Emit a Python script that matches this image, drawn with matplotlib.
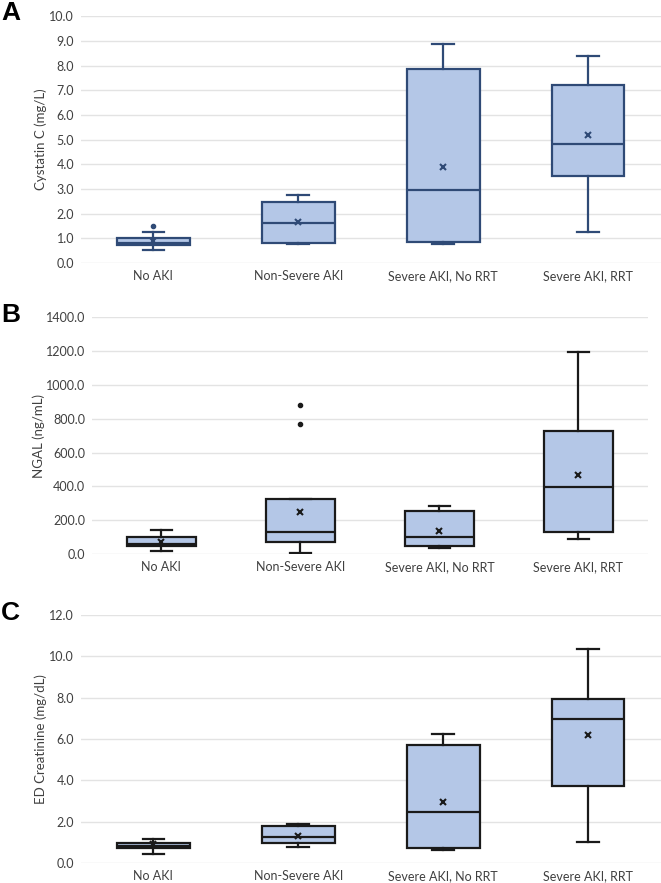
import matplotlib
matplotlib.use("Agg")
import matplotlib.pyplot as plt
from matplotlib.ticker import FormatStrFormatter, MultipleLocator

plt.rcParams["font.family"] = ["Lato", "DejaVu Sans"]

categories = ["No AKI", "Non-Severe AKI", "Severe AKI, No RRT", "Severe AKI, RRT"]

# Panel A - Cystatin C (mg/L)
cys_whislo = [0.55, 0.77, 0.78, 1.27]
cys_q1 = [0.74, 0.83, 0.85, 3.53]
cys_med = [0.82, 1.64, 2.97, 4.83]
cys_q3 = [1.00, 2.49, 7.87, 7.22]
cys_whishi = [1.28, 2.76, 8.88, 8.37]
cys_mean = [0.88, 1.67, 3.91, 5.18]
cys_fliers = [[1.52], [], [], []]

# Panel B - NGAL (ng/mL)
ngal_whislo = [20, 4, 37, 91]
ngal_q1 = [49, 69, 47, 130]
ngal_med = [59, 128, 102, 395]
ngal_q3 = [102, 323, 252, 729]
ngal_whishi = [142, 323, 286, 1197]
ngal_mean = [70, 250, 136, 465]
ngal_fliers = [[], [880, 767], [], []]

# Panel C - ED Creatinine (mg/dL)
cr_whislo = [0.42, 0.76, 0.62, 1.02]
cr_q1 = [0.73, 0.99, 0.73, 3.71]
cr_med = [0.81, 1.25, 2.49, 6.96]
cr_q3 = [0.99, 1.78, 5.71, 7.95]
cr_whishi = [1.18, 1.88, 6.26, 10.36]
cr_mean = [0.92, 1.33, 2.96, 6.18]
cr_fliers = [[], [], [], []]


def make_stats(whislo, q1, med, q3, whishi, mean, fliers):
    return [dict(label=c, whislo=a, q1=b, med=m, q3=d, whishi=e, mean=mu, fliers=f)
            for c, a, b, m, d, e, mu, f in zip(categories, whislo, q1, med, q3, whishi, mean, fliers)]


def draw_panel(ax, stats, ymax, ystep, ylabel, edge, label_x):
    lw = 1.6
    ax.bxp(stats, positions=range(len(stats)), widths=0.5, capwidths=0.15,
           showmeans=True, patch_artist=True,
           boxprops=dict(facecolor="#B4C7E7", edgecolor=edge, linewidth=lw),
           medianprops=dict(color=edge, linewidth=lw),
           whiskerprops=dict(color=edge, linewidth=lw),
           capprops=dict(color=edge, linewidth=lw),
           meanprops=dict(marker="x", markeredgecolor=edge, markersize=4, markeredgewidth=1.5),
           flierprops=dict(marker="o", markerfacecolor=edge, markeredgecolor=edge, markersize=3))
    ax.set_xlim(-0.5, len(stats) - 0.5)
    ax.set_ylim(0, ymax)
    ax.yaxis.set_major_locator(MultipleLocator(ystep))
    ax.yaxis.set_major_formatter(FormatStrFormatter("%.1f"))
    ax.grid(axis="y", color="#E3E3E3", linewidth=1)
    ax.set_axisbelow(True)
    for s in ax.spines.values():
        s.set_visible(False)
    ax.tick_params(length=0, labelsize=9, colors="#404040", pad=5)
    ax.set_ylabel(ylabel, fontsize=9.5, color="#404040")
    ax.yaxis.set_label_coords(label_x, 0.5)


fig = plt.figure(figsize=(6.61, 8.83), dpi=100)

ax_a = fig.add_axes([0.1225, 0.702, 0.877, 0.2797])
draw_panel(ax_a, make_stats(cys_whislo, cys_q1, cys_med, cys_q3, cys_whishi, cys_mean, cys_fliers),
           10, 1, "Cystatin C (mg/L)", "#2F4A76", -0.0586)

ax_b = fig.add_axes([0.139, 0.3726, 0.841, 0.268])
draw_panel(ax_b, make_stats(ngal_whislo, ngal_q1, ngal_med, ngal_q3, ngal_whishi, ngal_mean, ngal_fliers),
           1400, 200, "NGAL (ng/mL)", "#1A1A1A", -0.0845)

ax_c = fig.add_axes([0.1225, 0.0226, 0.877, 0.281])
draw_panel(ax_c, make_stats(cr_whislo, cr_q1, cr_med, cr_q3, cr_whishi, cr_mean, cr_fliers),
           12, 2, "ED Creatinine (mg/dL)", "#1A1A1A", -0.0586)

for letter, ytop in [("A", 1 - 1 / 883), ("B", 1 - 303 / 883), ("C", 1 - 601 / 883)]:
    fig.text(0.002, ytop, letter, fontsize=19, fontweight="bold", va="top", ha="left",
             family=["Liberation Sans", "DejaVu Sans"])

fig.savefig("out.png", dpi=100)
